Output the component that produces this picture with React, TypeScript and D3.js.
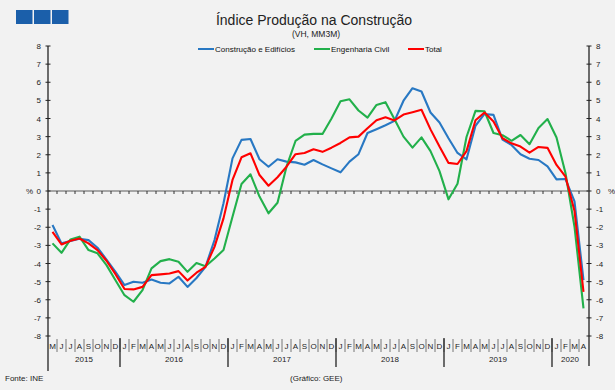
import React from 'react'
import * as d3 from 'd3'

// Maio 2015 .. Abril 2020 (VH, MM3M)
const monthLetters = ['J', 'F', 'M', 'A', 'M', 'J', 'J', 'A', 'S', 'O', 'N', 'D']
const yearLabels = ['2015', '2016', '2017', '2018', '2019', '2020']
const yearMonths = [8, 12, 12, 12, 12, 4]
const yTicks = [-8, -7, -6, -5, -4, -3, -2, -1, 0, 1, 2, 3, 4, 5, 6, 7, 8]

const construcao = [
  -1.88, -2.89, -2.76, -2.63, -2.71, -3.13, -3.78, -4.46,
  -5.19, -5.01, -5.06, -4.88, -5.06, -5.1, -4.73, -5.29, -4.8, -4.18, -2.71, -0.68,
  1.8, 2.82, 2.87, 1.75, 1.34, 1.75, 1.62, 1.58, 1.45, 1.71, 1.47, 1.25,
  1.03, 1.62, 2.03, 3.2, 3.41, 3.63, 3.87, 4.98, 5.67, 5.49, 4.33, 3.78,
  2.91, 2.1, 1.75, 3.6, 4.25, 4.2, 2.83, 2.54, 2.03, 1.78, 1.71, 1.36,
  0.64, 0.66, -0.57, -4.92,
]
const engenharia = [
  -2.89, -3.41, -2.67, -2.52, -3.26, -3.44, -4.09, -4.92,
  -5.75, -6.11, -5.47, -4.27, -3.87, -3.76, -3.9, -4.46, -3.97, -4.15, -3.72, -3.26,
  -1.42, 0.39, 0.92, -0.31, -1.23, -0.65, 1.34, 2.76, 3.11, 3.15, 3.15, 4.0,
  4.95, 5.06, 4.44, 4.05, 4.75, 4.9, 3.96, 3.0, 2.39, 2.96, 2.2, 1.1,
  -0.46, 0.4, 2.98, 4.42, 4.4, 3.2, 3.08, 2.77, 3.09, 2.58, 3.48, 3.97,
  2.95, 0.98, -1.97, -6.48,
]
const total = [
  -2.25, -2.95, -2.74, -2.62, -2.89, -3.26, -3.85, -4.59,
  -5.41, -5.43, -5.29, -4.64, -4.6, -4.55, -4.42, -4.94, -4.51, -4.18, -3.08, -1.51,
  0.61, 1.86, 2.08, 0.88, 0.29, 0.76, 1.34, 2.03, 2.1, 2.3, 2.16, 2.39,
  2.65, 2.96, 3.0, 3.46, 3.9, 4.07, 3.89, 4.22, 4.35, 4.48, 3.4, 2.45,
  1.55, 1.49, 2.2, 3.9, 4.33, 3.83, 2.91, 2.63, 2.45, 2.12, 2.43, 2.38,
  1.44, 0.79, -1.1, -5.56,
]

const series = [
  { name: 'Construção e Edifícios', values: construcao, color: '#2878c3', lx: 198 },
  { name: 'Engenharia Civil', values: engenharia, color: '#22b04b', lx: 314 },
  { name: 'Total', values: total, color: '#ff0000', lx: 408 },
]

const W = 615
const H = 390
const font = '"Liberation Sans", Arial, sans-serif'

export default function App () {
  const n = construcao.length
  // month labels starting in May 2015
  const labels = d3.range(n).map(i => monthLetters[(i + 4) % 12])
  const x = d3.scaleBand<number>().domain(d3.range(n)).range([48, 588])
  const y = d3.scaleLinear().domain([-8, 8]).range([336, 46])
  const cx = (i: number) => (x(i) as number) + x.bandwidth() / 2
  const line = d3.line<number>().x((_, i) => cx(i)).y(d => y(d))

  const yearStarts = yearMonths.map((_, k) => d3.sum(yearMonths.slice(0, k)))

  return <>
    <style>{'body{margin:0}'}</style>
    <svg width={W} height={H} style={{ display: 'block', fontFamily: font }}>
      <rect width={W} height={H} fill='#f2f2f2' />
      {/* logo */}
      {[0, 1, 2].map(k => <rect key={k} x={16 + k * 18} y={10} width={16.5} height={14} fill='#1b5faa' />)}

      <text x={314} y={25} textAnchor='middle' fontSize={14} fill='#222'>Índice Produção na Construção</text>
      <text x={316} y={37} textAnchor='middle' fontSize={8.5} fill='#222'>(VH, MM3M)</text>

      {series.map(s => <g key={s.name}>
        <line x1={s.lx} x2={s.lx + 16} y1={49} y2={49} stroke={s.color} strokeWidth={2} />
        <text x={s.lx + 17} y={52} fontSize={8} fill='#111'>{s.name}</text>
      </g>)}

      {/* zero line with month ticks */}
      <line x1={48} x2={588} y1={y(0)} y2={y(0)} stroke='#8c8c8c' strokeWidth={1.5} />
      {d3.range(1, n).map(i => <line key={i} x1={x(i)} x2={x(i)} y1={y(0)} y2={y(0) + 3} stroke='#333' strokeWidth={1} />)}

      {/* y axes */}
      <line x1={48} x2={48} y1={46} y2={371} stroke='#222' strokeWidth={1.3} />
      <line x1={589} x2={589} y1={46} y2={366} stroke='#222' strokeWidth={1.3} />
      {yTicks.map(t => <g key={t}>
        <line x1={45.5} x2={50.5} y1={y(t)} y2={y(t)} stroke='#222' />
        <line x1={586.5} x2={591.5} y1={y(t)} y2={y(t)} stroke='#222' />
        <text x={41} y={y(t) + 3} textAnchor='end' fontSize={8} fill='#222'>{t}</text>
        <text x={596} y={y(t) + 3} fontSize={8} fill='#222'>{t}</text>
      </g>)}
      <text x={26} y={y(0) + 3} fontSize={8} fill='#222'>%</text>
      <text x={608} y={y(0) + 3} fontSize={8} fill='#222'>%</text>

      {/* month labels */}
      {labels.map((m, i) => <text key={i} x={cx(i)} y={349} textAnchor='middle' fontSize={8} fill='#222'>{m}</text>)}
      {d3.range(1, n).map(i => <line key={i} x1={x(i)} x2={x(i)} y1={339} y2={352} stroke='#555' strokeWidth={0.8} />)}
      {yearStarts.map((s, k) => <g key={k}>
        {k > 0 && <line x1={x(s)} x2={x(s)} y1={338} y2={367} stroke='#222' strokeWidth={1.3} />}
        <text x={(x(s) as number) + yearMonths[k] * x.bandwidth() / 2} y={362} textAnchor='middle' fontSize={8} fill='#222'>{yearLabels[k]}</text>
      </g>)}

      {series.map(s => <path key={s.name} d={line(s.values) || ''} fill='none' stroke={s.color} strokeWidth={2.1} strokeLinejoin='round' />)}

      <text x={5} y={381} fontSize={8} fill='#222'>Fonte: INE</text>
      <text x={290} y={381} fontSize={8} fill='#222'>(Gráfico: GEE)</text>
    </svg>
  </>
}
